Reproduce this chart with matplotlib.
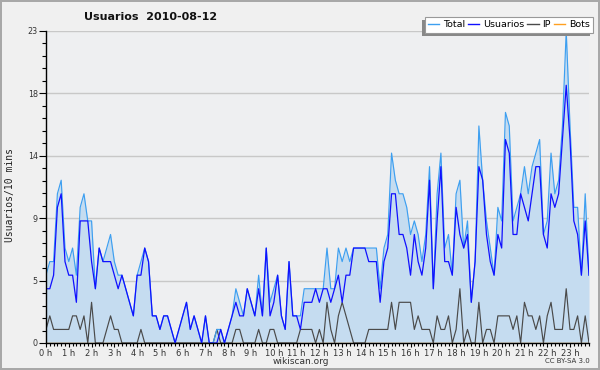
import matplotlib
matplotlib.use("Agg")
import matplotlib.pyplot as plt
from matplotlib.patches import Rectangle
from matplotlib.lines import Line2D
import numpy as np

# ---- data (10-minute slots over the day) ----
usuarios = [4, 4, 5, 10, 11, 6, 5, 5, 3, 9, 9, 9, 6, 4, 7, 6, 6, 6, 5, 4,
            5, 4, 3, 2, 5, 5, 7, 6, 2, 2, 1, 2, 2, 1, 0, 1, 2, 3, 1, 2,
            1, 0, 2, 0, 0, 0, 1, 0, 1, 2, 3, 2, 2, 4, 3, 2, 4, 2, 7, 2,
            3, 5, 2, 1, 6, 2, 2, 1, 3, 3, 3, 4, 3, 4, 4, 3, 4, 5, 3, 5,
            5, 7, 7, 7, 7, 6, 6, 6, 3, 6, 7, 11, 11, 8, 8, 7, 5, 8, 6, 5,
            7, 12, 4, 9, 13, 6, 6, 5, 10, 8, 7, 8, 3, 6, 13, 12, 8, 6, 5, 8,
            7, 15, 14, 8, 8, 11, 10, 9, 11, 13, 13, 8, 7, 11, 10, 11, 15, 19, 15, 9,
            8, 5, 9, 5]
ip = [1, 2, 1, 1, 1, 1, 1, 2, 2, 1, 2, 0, 3, 0, 0, 0, 1, 2, 1, 1,
      0, 0, 0, 0, 0, 1, 0, 0, 0, 0, 0, 0, 0, 0, 0, 0, 0, 0, 0, 0,
      0, 0, 0, 0, 0, 1, 0, 0, 0, 0, 1, 1, 0, 0, 0, 0, 1, 0, 0, 1,
      1, 0, 0, 0, 0, 0, 0, 1, 1, 1, 1, 0, 1, 0, 3, 1, 0, 2, 3, 2,
      1, 0, 0, 0, 0, 1, 1, 1, 1, 1, 1, 3, 1, 3, 3, 3, 3, 1, 2, 1,
      1, 1, 0, 2, 1, 1, 2, 0, 1, 4, 0, 1, 0, 0, 3, 0, 1, 1, 0, 2,
      2, 2, 2, 1, 2, 0, 3, 2, 2, 1, 2, 0, 2, 3, 1, 1, 1, 4, 1, 1,
      2, 0, 2, 0]
total = [5, 6, 6, 11, 12, 7, 6, 7, 5, 10, 11, 9, 9, 4, 7, 6, 7, 8, 6, 5,
         5, 4, 3, 2, 5, 6, 7, 6, 2, 2, 1, 2, 2, 1, 0, 1, 2, 3, 1, 2,
         1, 0, 2, 0, 0, 1, 1, 0, 1, 2, 4, 3, 2, 4, 3, 2, 5, 2, 7, 3,
         4, 5, 2, 1, 6, 2, 2, 2, 4, 4, 4, 4, 4, 4, 7, 4, 4, 7, 6, 7,
         6, 7, 7, 7, 7, 7, 7, 7, 4, 7, 8, 14, 12, 11, 11, 10, 8, 9, 8, 6,
         8, 13, 4, 11, 14, 7, 8, 5, 11, 12, 7, 9, 3, 6, 16, 12, 9, 7, 5, 10,
         9, 17, 16, 9, 10, 11, 13, 11, 13, 14, 15, 8, 9, 14, 11, 12, 16, 23, 16, 10,
         10, 5, 11, 5]
bots = [0] * 144

hour_labels = ["%d h" % h for h in range(24)]
ytick_labels = ["0", "5", "9", "14", "18", "23"]
y_max = 23

# ---- figure ----
fig = plt.figure(figsize=(6.0, 3.7), dpi=100)
fig.patch.set_facecolor("#f0f0f0")
fig.patch.set_edgecolor("#a8a8a8")
fig.patch.set_linewidth(1.5)

ax = fig.add_axes([46 / 600, 1 - 343 / 370, 543 / 600, 312 / 370])
ax.set_facecolor("#eeeff1")

x = np.arange(len(total))
ax.fill_between(x, total, 0, color="#c5dcf0", lw=0, zorder=1)
ax.plot(x, bots, color="#ffa020", lw=1.0, zorder=1.2)
ax.plot(x, ip, color="#4a4a4a", lw=0.85, zorder=2)
ax.plot(x, total, color="#3d9ff0", lw=0.85, zorder=2.1)
ax.plot(x, usuarios, color="#1010ff", lw=0.9, zorder=2.2)

ax.set_xlim(0, len(total) - 1)
ax.set_ylim(0, y_max)

# y ticks
ymaj = np.linspace(0, y_max, len(ytick_labels))
ax.set_yticks(ymaj)
ax.set_yticklabels(ytick_labels)
ax.set_yticks(np.linspace(0, y_max, 5 * (len(ytick_labels) - 1) + 1), minor=True)
ax.yaxis.grid(True, which="major", color="#c8c8c8", lw=1.0, zorder=0.5)
ax.set_axisbelow(True)

# x ticks
ax.set_xticks(np.arange(0, 144, 6))
ax.set_xticklabels(hour_labels)
ax.set_xticks(np.arange(0, 144, 1), minor=True)

ax.tick_params(axis="y", which="major", length=5, width=0.8, labelsize=5.8,
               pad=1, colors="#000000", labelcolor="#333333")
ax.tick_params(axis="y", which="minor", length=3, width=0.8)
ax.tick_params(axis="x", which="major", length=3, width=0.8, labelsize=6,
               pad=1, labelcolor="#333333")
ax.tick_params(axis="x", which="minor", length=2.5, width=0.8)

for s in ("top", "right"):
    ax.spines[s].set_visible(False)
for s in ("left", "bottom"):
    ax.spines[s].set_color("#000000")
    ax.spines[s].set_linewidth(1.0)

# texts
fig.text(151 / 600, 1 - 17 / 370, "Usuarios  2010-08-12", ha="center", va="center",
         fontsize=8, fontweight="bold", color="#111111")
fig.text(10 / 600, 1 - 195 / 370, "Usuarios/10 mins", rotation=90, ha="center",
         va="center", fontsize=7, family="DejaVu Sans Mono", color="#222222")
fig.text(301 / 600, 1 - 362 / 370, "wikiscan.org", ha="center", va="center",
         fontsize=6.5, color="#333333")
fig.text(590 / 600, 1 - 361 / 370, "CC BY-SA 3.0", ha="right", va="center",
         fontsize=5, color="#333333")

# legend
handles = [Line2D([], [], color="#3d9ff0", lw=1),
           Line2D([], [], color="#1010ff", lw=1),
           Line2D([], [], color="#4a4a4a", lw=1),
           Line2D([], [], color="#ffa020", lw=1)]
leg = fig.legend(handles, ["Total", "Usuarios", "IP", "Bots"], ncol=4,
                 loc="upper right", bbox_to_anchor=(593 / 600, 1 - 17 / 370),
                 fontsize=6.8, frameon=True, fancybox=False, framealpha=1,
                 edgecolor="#999999", facecolor="white", handlelength=1.2,
                 handletextpad=0.4, columnspacing=0.3, borderpad=0.35,
                 borderaxespad=0)
leg.get_frame().set_linewidth(0.8)
leg.set_zorder(5)

fig.canvas.draw()
bb = leg.get_window_extent()
inv = fig.transFigure.inverted()
(x0, y0), (x1, y1) = inv.transform([[bb.x0 - 3, bb.y0 - 3], [bb.x1 - 3, bb.y1 - 3]])
fig.patches.append(Rectangle((x0, y0), x1 - x0, y1 - y0, transform=fig.transFigure,
                             facecolor="#888888", edgecolor="none", zorder=4))

fig.savefig("out.png", dpi=100, facecolor=fig.get_facecolor(),
            edgecolor=fig.get_edgecolor())
